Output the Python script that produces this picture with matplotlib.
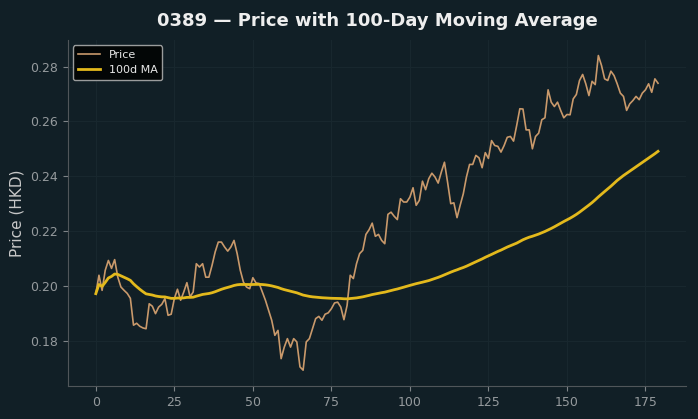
import matplotlib
matplotlib.use("Agg")
import matplotlib.pyplot as plt
import numpy as np
import pandas as pd

# Daily closing prices of 0389 (HKD)
price = [
    0.1972, 0.2039, 0.1984, 0.2057, 0.2093, 0.2064, 0.2096, 0.2032, 0.1996, 0.1984,
    0.1973, 0.1955, 0.1857, 0.1864, 0.1853, 0.1847, 0.1844, 0.1935, 0.1926, 0.1899,
    0.1923, 0.1933, 0.1954, 0.1893, 0.1897, 0.1954, 0.1988, 0.1948, 0.1978, 0.2012,
    0.1960, 0.1978, 0.2081, 0.2069, 0.2081, 0.2032, 0.2032, 0.2075, 0.2124, 0.2160,
    0.2160, 0.2142, 0.2127, 0.2142, 0.2166, 0.2118, 0.2057, 0.2014, 0.1996, 0.1990,
    0.2030, 0.2011, 0.2009, 0.1978, 0.1948, 0.1911, 0.1875, 0.1820, 0.1838, 0.1735,
    0.1777, 0.1808, 0.1777, 0.1808, 0.1796, 0.1705, 0.1693, 0.1796, 0.1808, 0.1844,
    0.1881, 0.1889, 0.1875, 0.1897, 0.1902, 0.1917, 0.1938, 0.1941, 0.1923, 0.1877,
    0.1929, 0.2039, 0.2027, 0.2081, 0.2118, 0.2130, 0.2188, 0.2205, 0.2229, 0.2181,
    0.2188, 0.2166, 0.2154, 0.2261, 0.2269, 0.2254, 0.2242, 0.2318, 0.2306, 0.2306,
    0.2324, 0.2358, 0.2294, 0.2312, 0.2382, 0.2351, 0.2391, 0.2411, 0.2397, 0.2375,
    0.2415, 0.2451, 0.2378, 0.2300, 0.2303, 0.2249, 0.2294, 0.2336, 0.2397, 0.2443,
    0.2443, 0.2476, 0.2467, 0.2431, 0.2486, 0.2465, 0.2530, 0.2512, 0.2509, 0.2488,
    0.2512, 0.2542, 0.2545, 0.2528, 0.2585, 0.2646, 0.2645, 0.2569, 0.2569, 0.2500,
    0.2545, 0.2557, 0.2606, 0.2613, 0.2715, 0.2670, 0.2654, 0.2670, 0.2640, 0.2613,
    0.2625, 0.2624, 0.2682, 0.2698, 0.2749, 0.2771, 0.2737, 0.2694, 0.2746, 0.2734,
    0.2840, 0.2804, 0.2755, 0.2749, 0.2783, 0.2767, 0.2737, 0.2703, 0.2691, 0.2640,
    0.2664, 0.2676, 0.2691, 0.2679, 0.2703, 0.2715, 0.2737, 0.2706, 0.2755, 0.2739,
]
days = np.arange(len(price))
ma_window = 100

BG = "#111f26"

s = pd.Series(price, index=days)
ma = s.rolling(ma_window, min_periods=1).mean()

fig, ax = plt.subplots(figsize=(6.98, 4.19), dpi=100)
fig.patch.set_facecolor(BG)
ax.set_facecolor(BG)

ax.plot(days, s, color="#c9996b", linewidth=1.2, label="Price")
ax.plot(days, ma, color="#e3b91c", linewidth=2.0, label=f"{ma_window}d MA")

ax.set_title("0389 — Price with 100-Day Moving Average", color="#eeeeee",
             fontsize=13, fontweight="bold", pad=10)
ax.set_ylabel("Price (HKD)", color="#c8c8c8", fontsize=11)

# very faint grid
ax.grid(True, color="#18272e", linewidth=0.8)
for side in ("top", "right"):
    ax.spines[side].set_visible(False)
for side in ("left", "bottom"):
    ax.spines[side].set_color("#50565a")
ax.tick_params(colors="#7d8386", labelcolor="#959a9d", labelsize=9)

leg = ax.legend(loc="upper left", facecolor="#030606", edgecolor="#9a9c9c",
                fontsize=8, framealpha=1.0)
for t in leg.get_texts():
    t.set_color("#e8e8e8")

plt.subplots_adjust(left=0.097, right=0.983, top=0.905, bottom=0.079)
plt.savefig("out.png", facecolor=fig.get_facecolor())
